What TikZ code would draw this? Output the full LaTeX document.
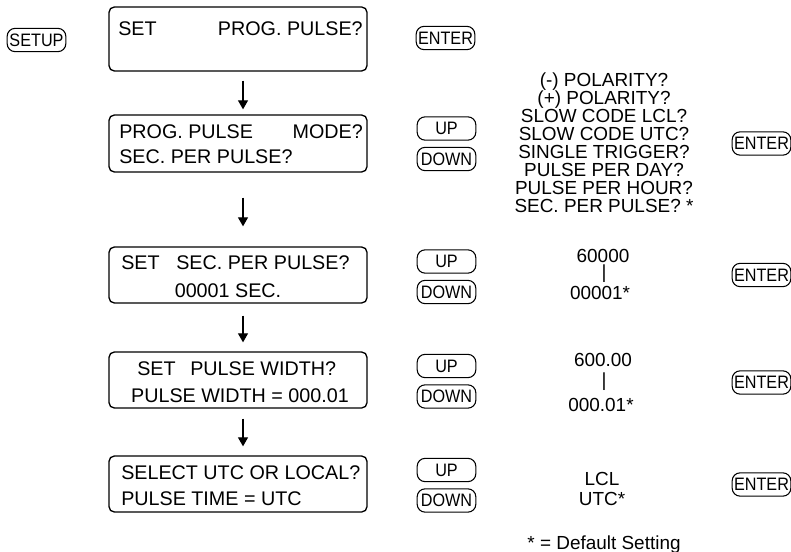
\documentclass[tikz,border=0pt]{standalone}
\usepackage{fontspec}
\setmainfont{Liberation Sans}
\newfontfamily\keyfont[FakeStretch=0.9]{Liberation Sans}
\usetikzlibrary{arrows.meta}

\begin{document}
\begin{tikzpicture}[x=0.75pt,y=-0.75pt,
    display/.style={draw,line width=1pt,rounded corners=4pt,minimum width=193.5pt,minimum height=42pt,anchor=center},
    key/.style={draw,line width=0.8pt,rounded corners=6pt,minimum width=44pt,minimum height=17.5pt,inner sep=0pt,font=\keyfont\fontsize{13.5}{15}\selectfont},
    lcd/.style={inner sep=0pt,anchor=base west,font=\fontsize{14.8}{16}\selectfont},
    opt/.style={inner sep=0pt,anchor=base,font=\fontsize{14.2}{16}\selectfont},
    flow/.style={-{Triangle[length=6.75pt,width=7.5pt]},line width=0.8pt},
]
\useasboundingbox (0,0) rectangle (791,552);

% displays
\node[display,minimum height=48pt] (disp1) at (238,39) {};
\node[display,minimum height=42.75pt] (disp2) at (238,143.5) {};
\node[display] (disp3) at (238,275) {};
\node[display] (disp4) at (238,380) {};
\node[display] (disp5) at (238,484) {};

% display texts
\node[lcd] (set1) at (118,36) {SET};
\node[lcd,anchor=base east] (prog1) at (363,36) {PROG. PULSE?};
\node[lcd] (prog2) at (119,139) {PROG. PULSE};
\node[lcd,anchor=base east] (mode2) at (363,139) {MODE?};
\node[lcd] (sec2) at (119,164) {SEC. PER PULSE?};
\node[lcd] (set3) at (121,269) {SET};
\node[lcd] (sec3) at (176,269) {SEC. PER PULSE?};
\node[lcd,anchor=base] (val3) at (228,297) {00001 SEC.};
\node[lcd] (set4) at (137,375) {SET};
\node[lcd] (wid4) at (190,375) {PULSE WIDTH?};
\node[lcd,anchor=base] (val4) at (240,402) {PULSE WIDTH = 000.01};
\node[lcd] (sel5) at (121,479) {SELECT UTC OR LOCAL?};
\node[lcd] (time5) at (121,505) {PULSE TIME = UTC};

\foreach \a/\b/\s/\e in {disp1/disp2/6.75pt/3.75pt,disp2/disp3/18.75pt/15pt,disp3/disp4/9pt/6.75pt,disp4/disp5/7.5pt/6.75pt}
  \draw[flow,shorten <=\s,shorten >=\e] ([xshift=3.75pt]\a.south) -- ([xshift=3.75pt]\b.north);

% keys
\node[key] (setup) at (36.5,40) {SETUP};
\node[key] (enter1) at (445.5,38) {ENTER};
\foreach \n/\y in {2/128.5,3/261.5,4/366,5/470} {
  \node[key] (up\n) at (446.5,\y) {UP};
  \node[key] (down\n) at (446.5,\y+30.5) {DOWN};
}
\foreach \n/\y in {2/143.5,3/275,4/382.5,5/484.5}
  \node[key] (enter\n) at (761.5,\y) {ENTER};

% choices
\foreach \t [count=\i] in {{(-) POLARITY?},{(+) POLARITY?},{SLOW CODE LCL?},{SLOW CODE UTC?},{SINGLE TRIGGER?},{PULSE PER DAY?},{PULSE PER HOUR?},{SEC. PER PULSE? *}}
  \node[opt] (mode\i) at (604,{87+17.86*(\i-1)}) {\t};
\node[opt] (max3) at (603,262) {60000};
\node[opt,anchor=center] (bar3) at (604,274) {|};
\node[opt] (min3) at (600,299) {00001*};
\node[opt] (max4) at (603,366) {600.00};
\node[opt,anchor=center] (bar4) at (604,382) {|};
\node[opt] (min4) at (601,411) {000.01*};
\node[opt] (lcl5) at (602,485) {LCL};
\node[opt] (utc5) at (602,505) {UTC*};
\node[opt] (note) at (604,549) {* = Default Setting};
\end{tikzpicture}
\end{document}
